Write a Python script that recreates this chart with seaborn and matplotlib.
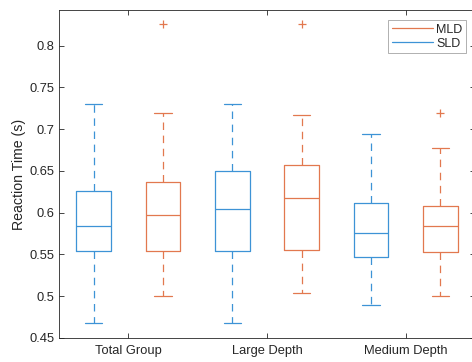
import numpy as np
import pandas as pd
import seaborn as sns
import matplotlib.pyplot as plt
from matplotlib.lines import Line2D

# Five-number summaries (lower whisker, Q1, median, Q3, upper whisker) per group
groups = ["Total Group", "Large Depth", "Medium Depth"]
conditions = ["SLD", "MLD"]

sld_lo = [0.4676, 0.4676, 0.4892]
sld_q1 = [0.5543, 0.5543, 0.5467]
sld_med = [0.5840, 0.6047, 0.5755]
sld_q3 = [0.6266, 0.6499, 0.6122]
sld_hi = [0.7306, 0.7306, 0.6946]

mld_lo = [0.5004, 0.5043, 0.5004]
mld_q1 = [0.5543, 0.5555, 0.5531]
mld_med = [0.5975, 0.6175, 0.5847]
mld_q3 = [0.6367, 0.6574, 0.6075]
mld_hi = [0.7190, 0.7170, 0.6775]

# Outlying observations (MLD only)
mld_out_group = ["Total Group", "Large Depth", "Medium Depth"]
mld_out_value = [0.8260, 0.8260, 0.7190]

blue = "#3d93d6"
orange = "#e2784f"
axis_color = "#262626"

rows = []
for i, g in enumerate(groups):
    for v in (sld_lo[i], sld_q1[i], sld_med[i], sld_q3[i], sld_hi[i]):
        rows.append((g, "SLD", v))
    for v in (mld_lo[i], mld_q1[i], mld_med[i], mld_q3[i], mld_hi[i]):
        rows.append((g, "MLD", v))
df = pd.DataFrame(rows, columns=["group", "condition", "rt"])

sns.set_style("white")
plt.rcParams["font.family"] = ["Liberation Sans", "DejaVu Sans"]

fig = plt.figure(figsize=(4.72, 3.62), dpi=100)
ax = fig.add_axes([59 / 472, 24 / 362, 416 / 472, 327.7 / 362])

lw = 0.9
sns.boxplot(
    data=df, x="group", y="rt", hue="condition",
    order=groups, hue_order=conditions,
    palette={"SLD": blue, "MLD": orange},
    width=1.0, gap=0.5, fill=False, showfliers=False,
    linewidth=lw, legend=False, ax=ax,
    whiskerprops=dict(linestyle=(0, (6.0, 4.5))),
)

# Outliers drawn as plus markers at the MLD box positions
out_x = [groups.index(g) + 0.25 for g in mld_out_group]
sns.scatterplot(x=out_x, y=mld_out_value, marker="+", color=orange,
                s=30, linewidth=0.9, ax=ax, zorder=3)

ax.set_xlim(-0.5, 2.5)
ax.set_ylim(0.45, 0.8424)
ax.set_xticks(range(len(groups)))
ax.set_xticklabels(groups)
ax.set_yticks([0.45, 0.5, 0.55, 0.6, 0.65, 0.7, 0.75, 0.8])
ax.set_yticklabels(["0.45", "0.5", "0.55", "0.6", "0.65", "0.7", "0.75", "0.8"])
ax.set_xlabel("")
ax.set_ylabel("Reaction Time (s)", fontsize=10.2, color=axis_color, labelpad=3)

for side in ["left", "right", "top", "bottom"]:
    ax.spines[side].set_visible(True)
    ax.spines[side].set_color(axis_color)
    ax.spines[side].set_linewidth(0.6)

ax.tick_params(axis="both", which="major", direction="in", length=3.5,
               width=0.6, color=axis_color, labelcolor=axis_color,
               labelsize=9.3, top=True, right=True, left=True, bottom=True)
ax.tick_params(axis="x", pad=5)
ax.tick_params(axis="y", pad=3)

handles = [Line2D([0], [0], color=orange, lw=0.9),
           Line2D([0], [0], color=blue, lw=0.9)]
leg = ax.legend(handles, ["MLD", "SLD"], loc="upper right",
                bbox_to_anchor=(466 / 472, (362 - 20) / 362),
                bbox_transform=fig.transFigure,
                fontsize=9, frameon=True, fancybox=False,
                handlelength=3.3, handletextpad=0.25, borderpad=0.3,
                labelspacing=0.15, borderaxespad=0)
leg.get_frame().set_edgecolor("#8c8c8c")
leg.get_frame().set_linewidth(0.6)

fig.savefig("out.png", dpi=100, facecolor="white")
